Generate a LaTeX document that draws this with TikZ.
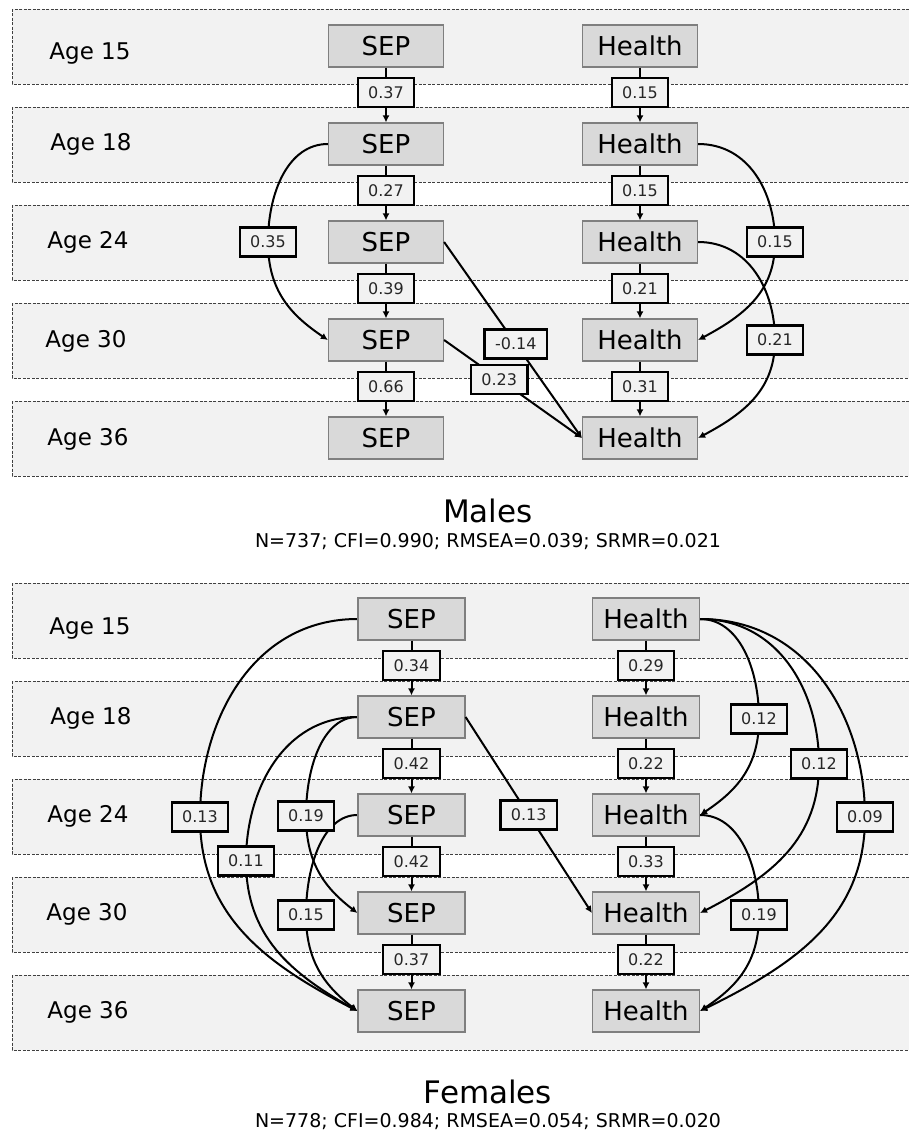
\documentclass[tikz,border=0pt]{standalone}
\usepackage{fontspec}
\setmainfont{DejaVu Sans}
\usetikzlibrary{arrows.meta}
\definecolor{bandgray}{HTML}{F2F2F2}
\definecolor{boxgray}{HTML}{D9D9D9}
\definecolor{edgegray}{HTML}{7F7F7F}
\pgfdeclarelayer{bands}
\pgfdeclarelayer{curves}
\pgfsetlayers{bands,curves,main}
\begin{document}
\begin{tikzpicture}[x=1pt, y=-1pt,
    band/.style={draw=black!75, fill=bandgray, line width=0.9pt, dash pattern=on 3pt off 1.5pt},
    age/.style={anchor=base, font=\fontsize{23}{27}\selectfont},
    var/.style={draw=edgegray, fill=boxgray, line width=1.2pt, minimum width=115pt, minimum height=42pt, inner sep=0pt, font=\fontsize{26}{30}\selectfont},
    fvar/.style={var, minimum width=107pt},
    lbl/.style={draw=black, fill=bandgray, line width=2.3pt, minimum height=29pt, inner xsep=10.5pt, inner ysep=0pt, text=black!85, font=\fontsize{16}{18}\selectfont},
    conn/.style={line width=2pt, -{Latex[length=7pt,width=7pt]}},
    grouptitle/.style={anchor=base, font=\fontsize{31}{36}\selectfont},
    fitline/.style={anchor=base, font=\fontsize{19}{22}\selectfont}]
            \useasboundingbox (0,0) rectangle (909,1131);

            % Bands
            \begin{pgfonlayer}{bands}
            \draw[band] (12,9) rectangle (912,84);
            \draw[band] (12,107) rectangle (912,182);
            \draw[band] (12,205) rectangle (912,280);
            \draw[band] (12,303) rectangle (912,378);
            \draw[band] (12,401) rectangle (912,476);
            \draw[band] (12,583) rectangle (912,658);
            \draw[band] (12,681) rectangle (912,756);
            \draw[band] (12,779) rectangle (912,854);
            \draw[band] (12,877) rectangle (912,952);
            \draw[band] (12,975) rectangle (912,1050);
            \end{pgfonlayer}

            % Ages
            \node[age] (ma15) at (90,60) {Age 15};
            \node[age] (ma18) at (91,151) {Age 18};
            \node[age] (ma24) at (88,249) {Age 24};
            \node[age] (ma30) at (86,347) {Age 30};
            \node[age] (ma36) at (88,445) {Age 36};
            \node[age] (fa15) at (90,634) {Age 15};
            \node[age] (fa18) at (91,724) {Age 18};
            \node[age] (fa24) at (88,822) {Age 24};
            \node[age] (fa30) at (87,920) {Age 30};
            \node[age] (fa36) at (88,1018) {Age 36};

            % Nodes (males)
            \node[var] (s15) at (386,46) {SEP};
            \node[var] (s18) at (386,144) {SEP};
            \node[var] (s24) at (386,242) {SEP};
            \node[var] (s30) at (386,340) {SEP};
            \node[var] (s36) at (386,438) {SEP};
            \node[var] (h15) at (640,46) {Health};
            \node[var] (h18) at (640,144) {Health};
            \node[var] (h24) at (640,242) {Health};
            \node[var] (h30) at (640,340) {Health};
            \node[var] (h36) at (640,438) {Health};

            % Nodes (females)
            \node[fvar] (fs15) at (411.5,619) {SEP};
            \node[fvar] (fs18) at (411.5,717) {SEP};
            \node[fvar] (fs24) at (411.5,815) {SEP};
            \node[fvar] (fs30) at (411.5,913) {SEP};
            \node[fvar] (fs36) at (411.5,1011) {SEP};
            \node[fvar] (fh15) at (646,619) {Health};
            \node[fvar] (fh18) at (646,717) {Health};
            \node[fvar] (fh24) at (646,815) {Health};
            \node[fvar] (fh30) at (646,913) {Health};
            \node[fvar] (fh36) at (646,1011) {Health};

            % Edges (males)
            \path[conn] (s15) edge node[lbl, pos=0.45] (m1) {0.37} (s18);
            \path[conn] (s18) edge node[lbl, pos=0.45] (m2) {0.27} (s24);
            \path[conn] (s24) edge node[lbl, pos=0.45] (m3) {0.39} (s30);
            \path[conn] (s30) edge node[lbl, pos=0.45] (m4) {0.66} (s36);

            \path[conn] (h15) edge node[lbl, pos=0.45] (m5) {0.15} (h18);
            \path[conn] (h18) edge node[lbl, pos=0.45] (m6) {0.15} (h24);
            \path[conn] (h24) edge node[lbl, pos=0.45] (m7) {0.21} (h30);
            \path[conn] (h30) edge node[lbl, pos=0.45] (m8) {0.31} (h36);

            \path[conn] (s24.east) edge node[lbl, pos=0.52] (m9) {-0.14} (h36.west);
            \path[conn] (s30.east) edge node[lbl, pos=0.4] (m10) {0.23} (h36.west);

            \node[lbl] (m11) at (268,242) {0.35};
            \node[lbl] (m12) at (775,242) {0.15};
            \node[lbl] (m13) at (775,340) {0.21};

            % Edges (females)
            \path[conn] (fs15) edge node[lbl, pos=0.45] (f1) {0.34} (fs18);
            \path[conn] (fs18) edge node[lbl, pos=0.45] (f2) {0.42} (fs24);
            \path[conn] (fs24) edge node[lbl, pos=0.45] (f3) {0.42} (fs30);
            \path[conn] (fs30) edge node[lbl, pos=0.45] (f4) {0.37} (fs36);

            \path[conn] (fh15) edge node[lbl, pos=0.45] (f5) {0.29} (fh18);
            \path[conn] (fh18) edge node[lbl, pos=0.45] (f6) {0.22} (fh24);
            \path[conn] (fh24) edge node[lbl, pos=0.45] (f7) {0.33} (fh30);
            \path[conn] (fh30) edge node[lbl, pos=0.45] (f8) {0.22} (fh36);

            \path[conn] (fs18.east) edge node[lbl, pos=0.5] (f9) {0.13} (fh30.west);

            \node[lbl] (f10) at (200,817) {0.13};
            \node[lbl] (f11) at (246,861) {0.11};
            \node[lbl] (f12) at (306,816) {0.19};
            \node[lbl] (f13) at (306,915) {0.15};
            \node[lbl] (f14) at (759,719) {0.12};
            \node[lbl] (f15) at (819,764) {0.12};
            \node[lbl] (f16) at (865,817) {0.09};
            \node[lbl] (f17) at (759,915) {0.19};

            % Lagged paths, behind their labels
            \begin{pgfonlayer}{curves}
            \draw[conn] (s18.west) .. controls +(-40,0) and +(0,-49) .. (m11.center) .. controls +(0,49) and +(-37,-25) .. (s30.west);
            \draw[conn] (h18.east) .. controls +(51,0) and +(0,-49) .. (m12.center) .. controls +(0,49) and +(47,-25) .. (h30.east);
            \draw[conn] (h24.east) .. controls +(51,0) and +(0,-49) .. (m13.center) .. controls +(0,49) and +(47,-25) .. (h36.east);

            \draw[conn] (fs15.west) .. controls +(-103,0) and +(0,-99) .. (f10.center) .. controls +(0,97) and +(-95,-49) .. (fs36.west);
            \draw[conn] (fs18.west) .. controls +(-73,0) and +(0,-72) .. (f11.center) .. controls +(0,75) and +(-67,-38) .. (fs36.west);
            \draw[conn] (fs18.west) .. controls +(-34,0) and +(0,-50) .. (f12.center) .. controls +(0,49) and +(-31,-24) .. (fs30.west);
            \draw[conn] (fs24.west) .. controls +(-34,0) and +(0,-50) .. (f13.center) .. controls +(0,48) and +(-31,-24) .. (fs36.west);
            \draw[conn] (fh15.east) .. controls +(39,0) and +(0,-50) .. (f14.center) .. controls +(0,48) and +(36,-24) .. (fh24.east);
            \draw[conn] (fh15.east) .. controls +(78,0) and +(0,-73) .. (f15.center) .. controls +(0,75) and +(72,-37) .. (fh30.east);
            \draw[conn] (fh15.east) .. controls +(108,0) and +(0,-99) .. (f16.center) .. controls +(0,97) and +(100,-49) .. (fh36.east);
            \draw[conn] (fh24.east) .. controls +(39,0) and +(0,-50) .. (f17.center) .. controls +(0,48) and +(36,-24) .. (fh36.east);
            \end{pgfonlayer}

            % Titles
            \node[grouptitle] (mtitle) at (488,522) {Males};
            \node[fitline] (mfit) at (488,547) {N=737; CFI=0.990; RMSEA=0.039; SRMR=0.021};
            \node[grouptitle] (ftitle) at (488,1103) {Females};
            \node[fitline] (ffit) at (488,1127) {N=778; CFI=0.984; RMSEA=0.054; SRMR=0.020};
\end{tikzpicture}
\end{document}
